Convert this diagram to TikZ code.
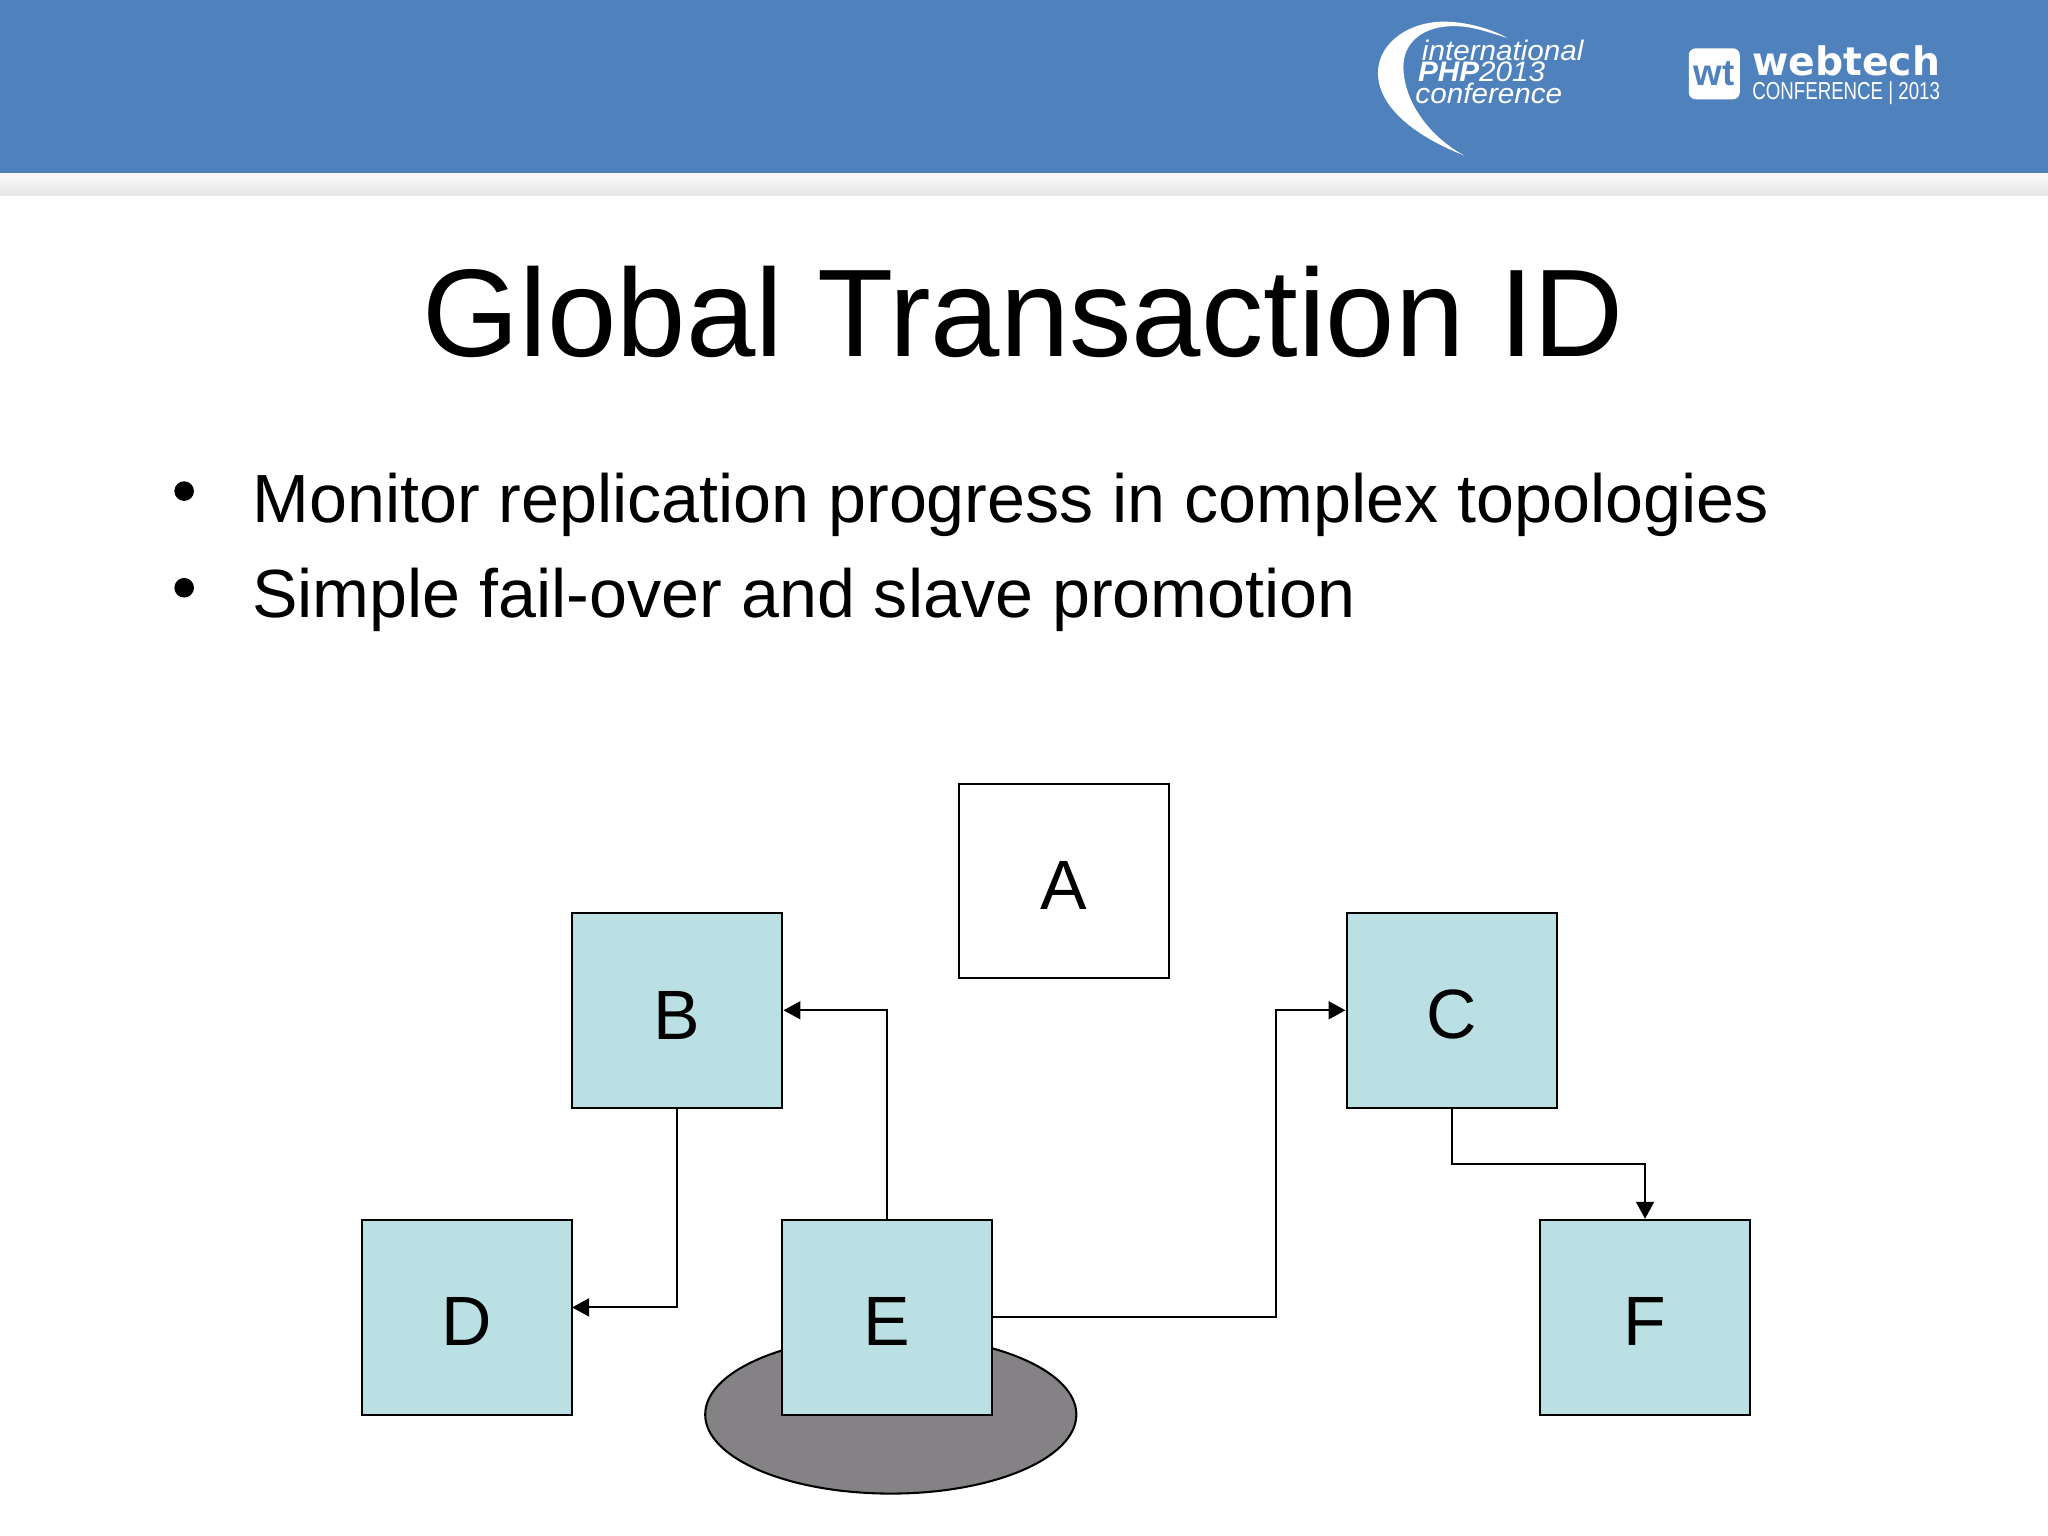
\documentclass[tikz,border=0pt]{standalone}
\usepackage{fontspec}
\usepackage{graphicx}
\setmainfont{Liberation Sans}
\newfontfamily\logofont[FakeStretch=1.05]{Liberation Sans}
\usetikzlibrary{arrows.meta,shapes.geometric}
\definecolor{bannerblue}{RGB}{79,129,189}
\definecolor{boxteal}{RGB}{187,224,227}
\definecolor{diskgray}{RGB}{132,130,133}

\begin{document}
\begin{tikzpicture}[x=0.01cm, y=-0.01cm, >={Triangle[length=3.7pt,width=3.9pt]},
   server/.style={draw, rectangle, line width=0.45pt, minimum width=1.61cm, minimum height=1.49cm,
      inner sep=0, text height=0.44cm, font=\fontsize{15.2pt}{18pt}\selectfont},
   replica/.style={fill=boxteal},
   link/.style={draw, line width=0.45pt},
   titletext/.style={anchor=base, inner sep=0, font=\fontsize{27.15pt}{30pt}\selectfont},
   bullettext/.style={anchor=base west, inner sep=0, font=\fontsize{14.85pt}{17pt}\selectfont},
   dot/.style={circle, fill=black, inner sep=0, minimum size=0.15cm},
   logotext/.style={anchor=base west, inner sep=0, text=white, font=\logofont\fontsize{6.15pt}{7pt}\selectfont\itshape}]
   \useasboundingbox (0,0) rectangle (1568,1176);
   \fill[bannerblue] (0,0) rectangle (1568,133);
   \shade[top color=white!98!black, middle color=white!97!black, bottom color=white!90!black] (0,133) rectangle (1568,150);

   \fill[white] (1121,119) .. controls (1080,103) and (1055,80) .. (1055,56)
      .. controls (1055,32) and (1080,16) .. (1107,16.6)
      .. controls (1127,17) and (1145,24) .. (1154,29)
      .. controls (1140,25) and (1128,20) .. (1113,20)
      .. controls (1090,20) and (1074.5,32) .. (1074.5,51)
      .. controls (1074.5,78) and (1095,105) .. (1121,119) -- cycle;
   \node (intl) at (1088,46) [logotext] {international};
   \node (php) at (1085,62.5) [logotext] {\textbf{PHP}2013};
   \node (conf) at (1083,79) [logotext] {conference};
   \node (wtmark) at (1312.5,56.5) [fill=white, rounded corners=1.5pt, minimum width=0.39cm, minimum height=0.39cm, inner sep=0,
      text=bannerblue, font=\fontsize{8pt}{9pt}\selectfont\bfseries] {wt};
   \node (webtech) at (1341,57.5) [anchor=base west, inner sep=0, text=white, font=\fontsize{8.55pt}{9pt}\selectfont\fontspec{DejaVu Sans}\bfseries] {webtech};
   \node (webconf) at (1341,76) [anchor=base west, inner sep=0, text=white, font=\fontsize{5.35pt}{6pt}\selectfont] {\scalebox{0.76}[1]{CONFERENCE | 2013}};

   \node (title) at (783.5,273) [titletext] {Global Transaction ID};
   \node (dot1) at (141,376) [dot] {};
   \node (dot2) at (141,450) [dot] {};
   \node (item1) at (192.5,400) [bullettext] {Monitor replication progress in complex topologies};
   \node (item2) at (192.5,473) [bullettext] {Simple fail-over and slave promotion};

   \node (disk) at (682,1083) [draw, ellipse, fill=diskgray, line width=0.45pt, minimum width=2.84cm, minimum height=1.21cm, inner sep=0] {};
   \node (A) at (814.5,674.5) [server] {A};
   \node (B) at (518.5,773.5) [server, replica] {B};
   \node (C) at (1111.5,773.5) [server, replica] {C};
   \node (D) at (357.5,1008.5) [server, replica] {D};
   \node (E) at (679,1008.5) [server, replica] {E};
   \node (F) at (1259.5,1008.5) [server, replica] {F};
   \coordinate (ec) at (977,1008.5);
   \coordinate (cf) at (1185,891);
   \coordinate (bd) at (438,1001);

   \draw[link] (E.north)[->] |- (B.east);
   \draw[link] (B.south)[->] |- (bd);
   \draw[link] (E.east)[->] -- (ec) |- (C.west);
   \draw[link] (C.south)[->] |- (cf) -| (F.north);
\end{tikzpicture}
\end{document}
